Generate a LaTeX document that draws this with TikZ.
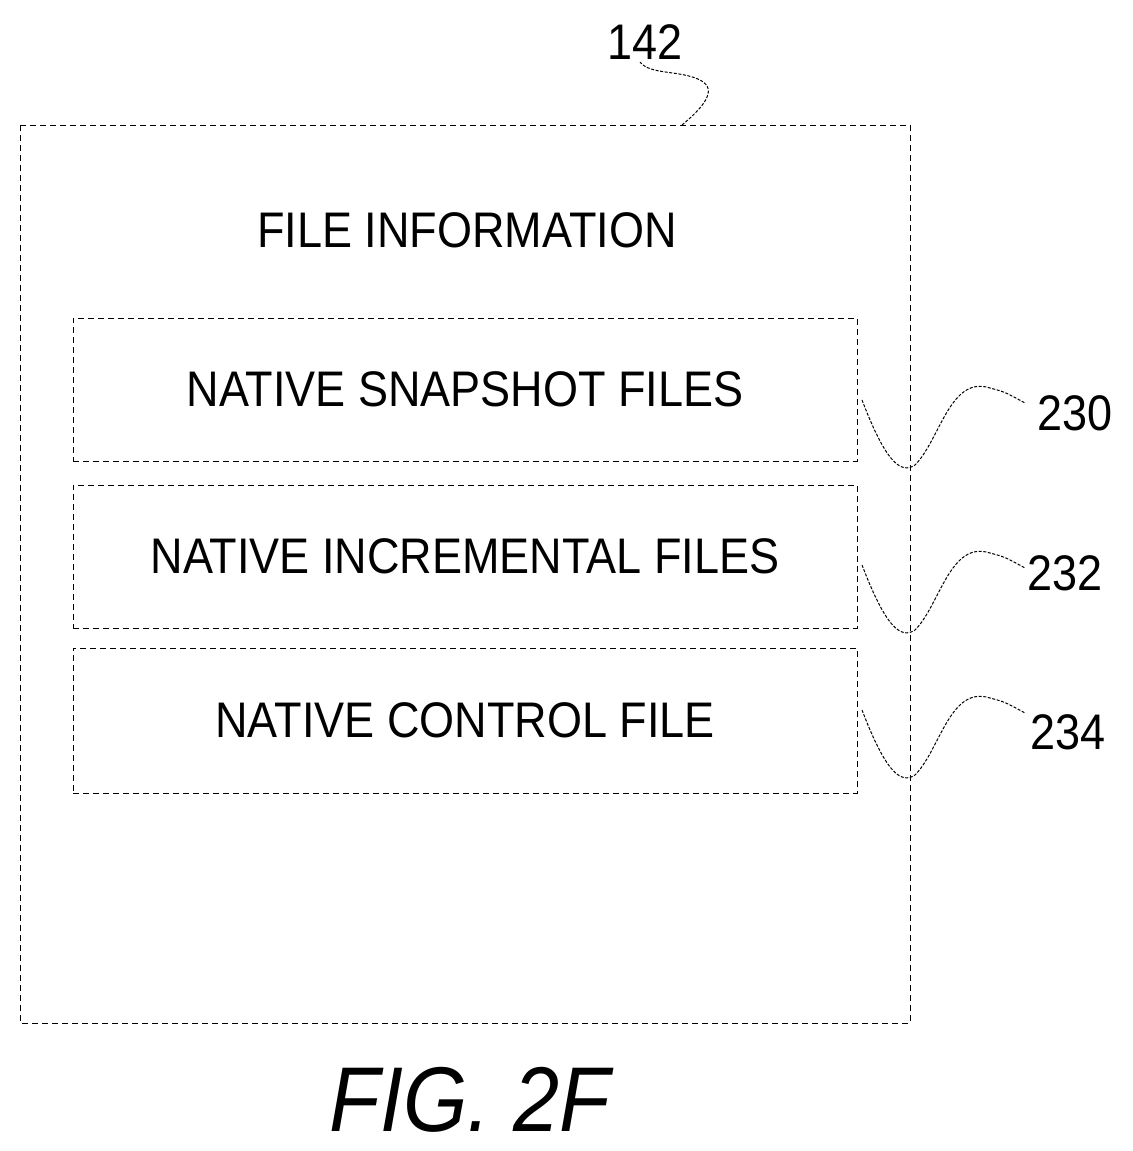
\documentclass[tikz,border=0pt]{standalone}
\usepackage{fontspec}
\setmainfont{Liberation Sans}[FakeStretch=0.9]
\begin{document}
\begin{tikzpicture}[x=0.5pt,y=-0.5pt,
  box/.style={draw, densely dashed, line width=0.5pt},
  lbl/.style={font=\fontsize{25}{28}\selectfont},
  lead/.style={line width=0.5pt, dash pattern=on 1.5pt off 0.8pt}]
\useasboundingbox (0,0) rectangle (1132,1151);
\draw[box] (20,125) rectangle (910,1023);
\node[lbl] (fi) at (467,230) {FILE INFORMATION};
\node[box, minimum width=392pt, minimum height=71.5pt, lbl] (b1) at (465,389.5) {NATIVE SNAPSHOT FILES};
\node[box, minimum width=392pt, minimum height=71.5pt, lbl] (b2) at (465,556.5) {NATIVE INCREMENTAL FILES};
\node[box, minimum width=392pt, minimum height=72.5pt, lbl] (b3) at (465,720.5) {NATIVE CONTROL FILE};
\node[lbl] (n142) at (645,42) {142};
\node[lbl] (n230) at (1075,413) {230};
\node[lbl] (n232) at (1065,573) {232};
\node[lbl] (n234) at (1068,732) {234};
\coordinate (c142) at (682,125);
\draw[lead] (c142) .. controls (700,110) and (720,90) .. (700,80) .. controls (680,70) and (650,75) .. (640,62);
\foreach \b/\n/\y in {b1/n230/400, b2/n232/565, b3/n234/710}{
  \draw[lead] (862,\y) .. controls (885,\y+60) and (900,\y+75) .. (915,\y+65)
     .. controls (940,\y+40) and (950,\y-25) .. (990,\y-12)
     .. controls (1005,\y-8) .. (1025,\y+3);
}
\node[font=\fontsize{46}{50}\selectfont\itshape] (fig) at (470,1100) {FIG. 2F};
\end{tikzpicture}
\end{document}
